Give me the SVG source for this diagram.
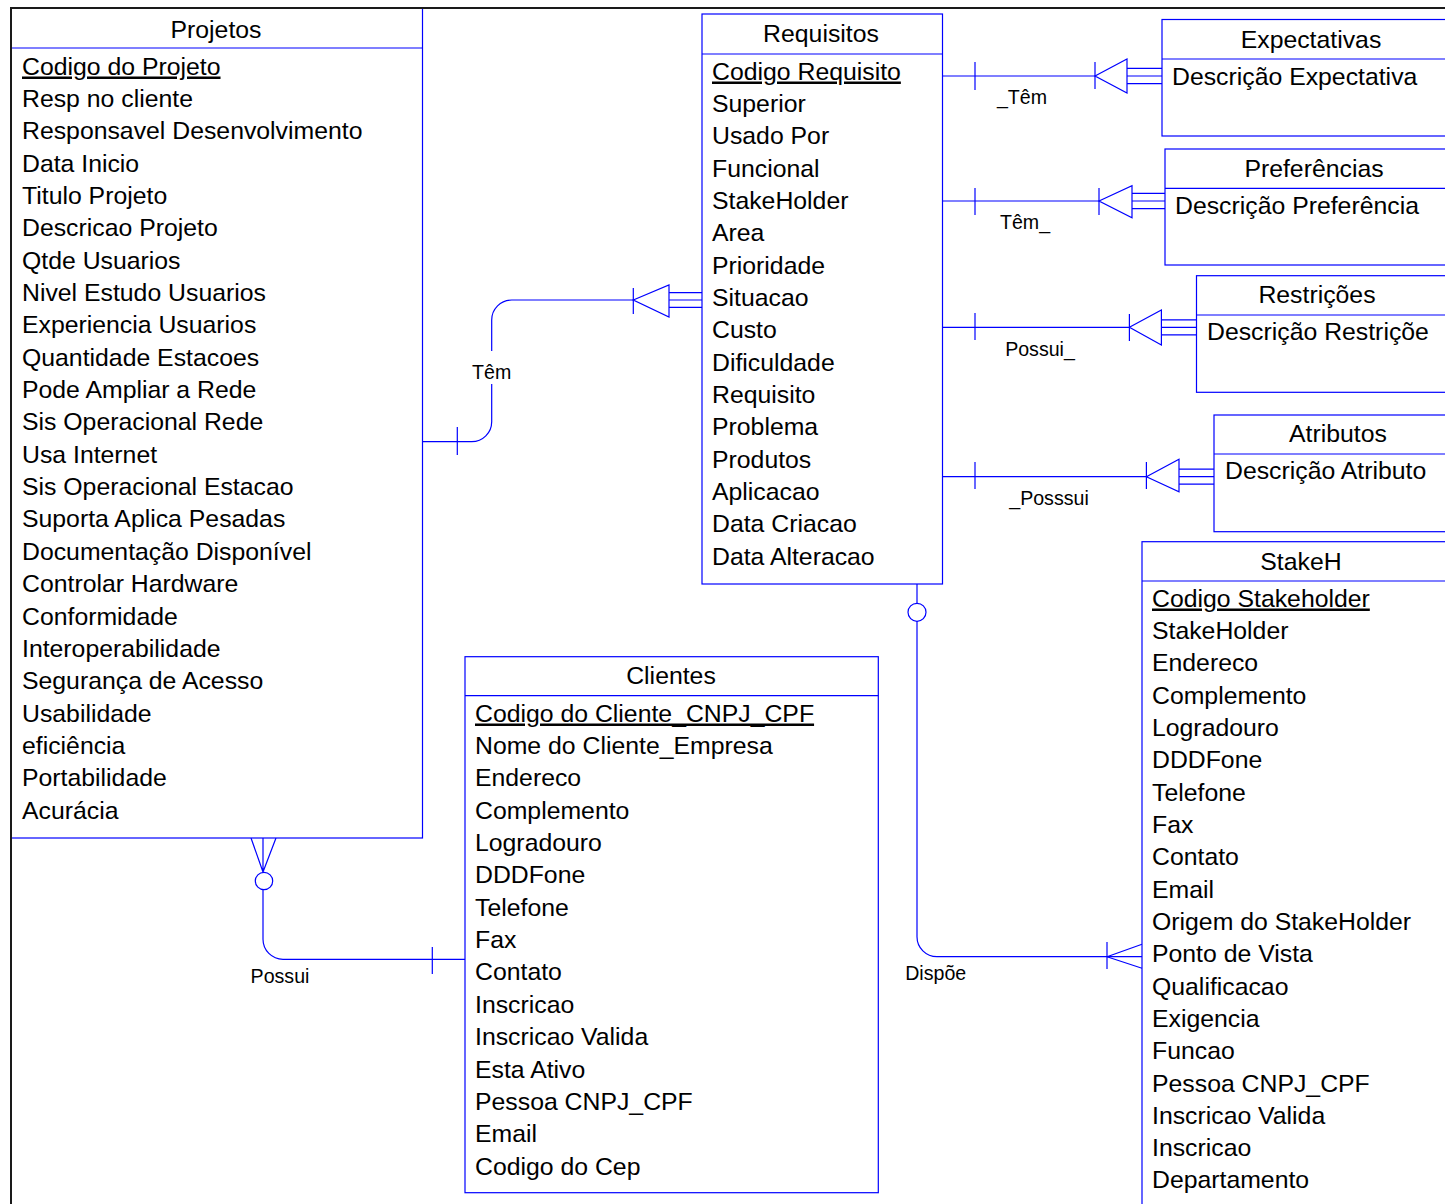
<svg xmlns="http://www.w3.org/2000/svg" width="1445" height="1204" viewBox="0 0 1445 1204">
<style>
.box{fill:#fff;stroke:#0000ff;stroke-width:1.2}
.hd{stroke:#0000ff;stroke-width:1.2;fill:none}
.t{font-family:"Liberation Sans",Arial,sans-serif;font-size:24.8px;fill:#000}
.ti{text-anchor:middle}
.pk{text-decoration:underline}
.lbl{font-family:"Liberation Sans",Arial,sans-serif;font-size:19.6px;fill:#000;text-anchor:middle}
.c{fill:none;stroke:#0000ff;stroke-width:1.2}
</style>
<rect width="1445" height="1204" fill="#fff"/>

<g id="connectors">
  <!-- Projetos - Requisitos (Têm) -->
  <path class="c" d="M422,441.7 H471.7 A20,20 0 0 0 491.7,421.7 V384"/>
  <path class="c" d="M491.7,351 V320 A20,20 0 0 1 511.7,300 H633"/>
  <line class="c" x1="457.3" y1="427" x2="457.3" y2="455"/>
  <line class="c" x1="633.3" y1="288" x2="633.3" y2="314"/>
  <path class="c" d="M633.3,300 L669,285 V317 Z"/>
  <path class="c" d="M669,292.7 H702 M669,300 H702 M669,307.3 H702"/>
  <text class="lbl" x="491.7" y="378.5">Têm</text>

  <!-- Requisitos - Expectativas -->
  <path class="c" d="M942,76 H1095"/>
  <line class="c" x1="975" y1="62" x2="975" y2="90"/>
  <line class="c" x1="1095" y1="62" x2="1095" y2="89"/>
  <path class="c" d="M1095,76 L1127,59 V93 Z"/>
  <path class="c" d="M1127,68.3 H1162 M1127,76 H1162 M1127,83.7 H1162"/>
  <text class="lbl" x="1022" y="104">_Têm</text>

  <!-- Requisitos - Preferências -->
  <path class="c" d="M942,201 H1099"/>
  <line class="c" x1="975" y1="188" x2="975" y2="215"/>
  <line class="c" x1="1099" y1="188" x2="1099" y2="215"/>
  <path class="c" d="M1099,201 L1132,185.7 V217.7 Z"/>
  <path class="c" d="M1132,193.3 H1165 M1132,201 H1165 M1132,208.7 H1165"/>
  <text class="lbl" x="1025" y="229">Têm_</text>

  <!-- Requisitos - Restrições -->
  <path class="c" d="M942,327.3 H1129.4"/>
  <line class="c" x1="975" y1="313" x2="975" y2="340"/>
  <line class="c" x1="1129.4" y1="314" x2="1129.4" y2="341"/>
  <path class="c" d="M1129.4,327.3 L1161.4,310 V345 Z"/>
  <path class="c" d="M1161.4,319.8 H1197 M1161.4,327.3 H1197 M1161.4,334.8 H1197"/>
  <text class="lbl" x="1040" y="356">Possui_</text>

  <!-- Requisitos - Atributos -->
  <path class="c" d="M942,476.7 H1146.4"/>
  <line class="c" x1="975" y1="462" x2="975" y2="489"/>
  <line class="c" x1="1146.4" y1="462" x2="1146.4" y2="489"/>
  <path class="c" d="M1146.4,476.7 L1179,459.3 V491.7 Z"/>
  <path class="c" d="M1179,469.2 H1214 M1179,476.7 H1214 M1179,484.2 H1214"/>
  <text class="lbl" x="1049" y="505">_Posssui</text>

  <!-- Projetos - Clientes (Possui) -->
  <path class="c" d="M251,838 L263,872 M263,838 V872 M276,838 L263,872"/>
  <circle class="c" cx="264" cy="881" r="8.7"/>
  <path class="c" d="M263,889.7 V939.3 A20,20 0 0 0 283,959.3 H465"/>
  <line class="c" x1="432.3" y1="947" x2="432.3" y2="974"/>
  <text class="lbl" x="280" y="983">Possui</text>

  <!-- Requisitos - StakeH (Dispõe) -->
  <path class="c" d="M917,584 V603.3"/>
  <circle class="c" cx="917" cy="612.3" r="9"/>
  <path class="c" d="M917,621.3 V936.7 A20,20 0 0 0 937,956.7 H1142"/>
  <line class="c" x1="1107" y1="942" x2="1107" y2="969"/>
  <path class="c" d="M1107,956.7 L1142,944.3 M1107,956.7 L1142,968.3"/>
  <text class="lbl" x="935.7" y="980">Dispõe</text>
</g>

<g id="projetos">
  <rect class="box" x="11" y="8" width="411.5" height="830"/>
  <line class="hd" x1="11" y1="48" x2="422.5" y2="48"/>
  <text class="t ti" x="216" y="37.5">Projetos</text>
  <text class="t" x="22">
    <tspan x="22" y="74.5" class="pk">Codigo do Projeto</tspan>
    <tspan x="22" y="106.9">Resp no cliente</tspan>
    <tspan x="22" y="139.2">Responsavel Desenvolvimento</tspan>
    <tspan x="22" y="171.6">Data Inicio</tspan>
    <tspan x="22" y="203.9">Titulo Projeto</tspan>
    <tspan x="22" y="236.3">Descricao Projeto</tspan>
    <tspan x="22" y="268.6">Qtde Usuarios</tspan>
    <tspan x="22" y="301">Nivel Estudo Usuarios</tspan>
    <tspan x="22" y="333.3">Experiencia Usuarios</tspan>
    <tspan x="22" y="365.7">Quantidade Estacoes</tspan>
    <tspan x="22" y="398">Pode Ampliar a Rede</tspan>
    <tspan x="22" y="430.4">Sis Operacional Rede</tspan>
    <tspan x="22" y="462.7">Usa Internet</tspan>
    <tspan x="22" y="495.1">Sis Operacional Estacao</tspan>
    <tspan x="22" y="527.4">Suporta Aplica Pesadas</tspan>
    <tspan x="22" y="559.8">Documentação Disponível</tspan>
    <tspan x="22" y="592.1">Controlar Hardware</tspan>
    <tspan x="22" y="624.5">Conformidade</tspan>
    <tspan x="22" y="656.8">Interoperabilidade</tspan>
    <tspan x="22" y="689.2">Segurança de Acesso</tspan>
    <tspan x="22" y="721.5">Usabilidade</tspan>
    <tspan x="22" y="753.9">eficiência</tspan>
    <tspan x="22" y="786.2">Portabilidade</tspan>
    <tspan x="22" y="818.6">Acurácia</tspan>
  </text>
</g>

<g id="requisitos">
  <rect class="box" x="702" y="14" width="240.5" height="570"/>
  <line class="hd" x1="702" y1="54" x2="942.5" y2="54"/>
  <text class="t ti" x="821" y="41.7">Requisitos</text>
  <text class="t" x="712">
    <tspan x="712" y="79.5" class="pk">Codigo Requisito</tspan>
    <tspan x="712" y="111.8">Superior</tspan>
    <tspan x="712" y="144.2">Usado Por</tspan>
    <tspan x="712" y="176.5">Funcional</tspan>
    <tspan x="712" y="208.8">StakeHolder</tspan>
    <tspan x="712" y="241.2">Area</tspan>
    <tspan x="712" y="273.5">Prioridade</tspan>
    <tspan x="712" y="305.8">Situacao</tspan>
    <tspan x="712" y="338.1">Custo</tspan>
    <tspan x="712" y="370.5">Dificuldade</tspan>
    <tspan x="712" y="402.8">Requisito</tspan>
    <tspan x="712" y="435.1">Problema</tspan>
    <tspan x="712" y="467.5">Produtos</tspan>
    <tspan x="712" y="499.8">Aplicacao</tspan>
    <tspan x="712" y="532.1">Data Criacao</tspan>
    <tspan x="712" y="564.5">Data Alteracao</tspan>
  </text>
</g>

<g id="expectativas">
  <rect class="box" x="1162" y="19.5" width="300" height="116.5"/>
  <line class="hd" x1="1162" y1="59" x2="1462" y2="59"/>
  <text class="t ti" x="1311" y="47.5">Expectativas</text>
  <text class="t" x="1172" y="84.5">Descrição Expectativa</text>
</g>

<g id="preferencias">
  <rect class="box" x="1165" y="149" width="300" height="116"/>
  <line class="hd" x1="1165" y1="188.3" x2="1465" y2="188.3"/>
  <text class="t ti" x="1314" y="176.5">Preferências</text>
  <text class="t" x="1175" y="213.5">Descrição Preferência</text>
</g>

<g id="restricoes">
  <rect class="box" x="1196.5" y="275.7" width="300" height="116.6"/>
  <line class="hd" x1="1196.5" y1="315" x2="1496.5" y2="315"/>
  <text class="t ti" x="1317" y="302.7">Restrições</text>
  <text class="t" x="1207" y="340">Descrição Restriçõe</text>
</g>

<g id="atributos">
  <rect class="box" x="1214" y="415" width="300" height="116.7"/>
  <line class="hd" x1="1214" y1="454" x2="1514" y2="454"/>
  <text class="t ti" x="1338" y="441.7">Atributos</text>
  <text class="t" x="1225" y="479.4">Descrição Atributo</text>
</g>

<g id="clientes">
  <rect class="box" x="465" y="656.7" width="413.3" height="536"/>
  <line class="hd" x1="465" y1="695.7" x2="878.3" y2="695.7"/>
  <text class="t ti" x="671" y="683.5">Clientes</text>
  <text class="t" x="475">
    <tspan x="475" y="721.5" class="pk">Codigo do Cliente_CNPJ_CPF</tspan>
    <tspan x="475" y="753.9">Nome do Cliente_Empresa</tspan>
    <tspan x="475" y="786.2">Endereco</tspan>
    <tspan x="475" y="818.6">Complemento</tspan>
    <tspan x="475" y="850.9">Logradouro</tspan>
    <tspan x="475" y="883.3">DDDFone</tspan>
    <tspan x="475" y="915.7">Telefone</tspan>
    <tspan x="475" y="948">Fax</tspan>
    <tspan x="475" y="980.4">Contato</tspan>
    <tspan x="475" y="1012.7">Inscricao</tspan>
    <tspan x="475" y="1045.1">Inscricao Valida</tspan>
    <tspan x="475" y="1077.5">Esta Ativo</tspan>
    <tspan x="475" y="1109.8">Pessoa CNPJ_CPF</tspan>
    <tspan x="475" y="1142.2">Email</tspan>
    <tspan x="475" y="1174.5">Codigo do Cep</tspan>
  </text>
</g>

<g id="stakeh">
  <rect class="box" x="1142" y="541.7" width="340" height="700"/>
  <line class="hd" x1="1142" y1="581" x2="1482" y2="581"/>
  <text class="t ti" x="1301" y="569.5">StakeH</text>
  <text class="t" x="1152">
    <tspan x="1152" y="606.5" class="pk">Codigo Stakeholder</tspan>
    <tspan x="1152" y="638.8">StakeHolder</tspan>
    <tspan x="1152" y="671.2">Endereco</tspan>
    <tspan x="1152" y="703.5">Complemento</tspan>
    <tspan x="1152" y="735.8">Logradouro</tspan>
    <tspan x="1152" y="768.2">DDDFone</tspan>
    <tspan x="1152" y="800.5">Telefone</tspan>
    <tspan x="1152" y="832.8">Fax</tspan>
    <tspan x="1152" y="865.1">Contato</tspan>
    <tspan x="1152" y="897.5">Email</tspan>
    <tspan x="1152" y="929.8">Origem do StakeHolder</tspan>
    <tspan x="1152" y="962.1">Ponto de Vista</tspan>
    <tspan x="1152" y="994.5">Qualificacao</tspan>
    <tspan x="1152" y="1026.8">Exigencia</tspan>
    <tspan x="1152" y="1059.1">Funcao</tspan>
    <tspan x="1152" y="1091.5">Pessoa CNPJ_CPF</tspan>
    <tspan x="1152" y="1123.8">Inscricao Valida</tspan>
    <tspan x="1152" y="1156.1">Inscricao</tspan>
    <tspan x="1152" y="1188.4">Departamento</tspan>
  </text>
</g>

<g id="page-border">
  <path d="M11,1204 V8 H1445" fill="none" stroke="#1a1a1a" stroke-width="2"/>
</g>
</svg>
